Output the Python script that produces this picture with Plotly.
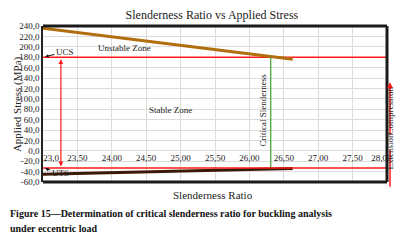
import plotly.graph_objects as go

# ---- data ----
slenderness = [23.0, 23.5, 24.0, 24.5, 25.0, 25.5, 26.0, 26.5, 26.63]
applied_stress = [235.6, 227.4, 219.2, 211.0, 202.8, 194.6, 186.4, 178.2, 176.0]
tensile_stress = [-45.0, -43.5, -42.0, -40.5, -39.0, -37.5, -36.0, -34.5, -34.0]
ucs = 180.0
uts = -33.0
critical_slenderness = 26.31
arrow_x = 23.26
x_min, x_max = 23.0, 28.0
y_min, y_max = -60.0, 240.0

NB = "\u00a0"
x_first_tick = [23.0]
x_first_text = ["23,0"]
x_tickvals = [23.5, 24.0, 24.5, 25.0, 25.5, 26.0, 26.5, 27.0, 27.5, 28.0]
x_ticktext = ["23,50", "24,00", "24,50", "25,00", "25,50", "26,00",
              "26,50", "27,00", "27,50", "28,00" + NB * 5]
y_tickvals = [240, 220, 200, 180, 160, 140, 120, 100, 80, 60, 40, 20, 0, -20, -40, -60]
y_ticktext = ["240,0", "220,0", "200,0", "180,0", "160,0", "140,0", "120,0", "100,0",
              "80,0", "60,0", "40,0", "20,0", "0,0", "-20,0", "-40,0", "-60,0"]

SERIF = "Liberation Serif"
TXT = "#222222"

fig = go.Figure()

# UCS and UTS lines
fig.add_trace(go.Scatter(x=[x_min, x_max], y=[ucs, ucs], mode="lines",
                         line=dict(color="#ff1a1a", width=1.5), hoverinfo="skip"))
fig.add_trace(go.Scatter(x=[x_min, x_max], y=[uts, uts], mode="lines", xaxis="x2",
                         line=dict(color="#ff1a1a", width=1.5), hoverinfo="skip"))
# tensile (bottom) curve
fig.add_trace(go.Scatter(x=slenderness, y=tensile_stress, mode="lines",
                         line=dict(color="#3a1a06", width=3)))
# compressive curve
fig.add_trace(go.Scatter(x=slenderness, y=applied_stress, mode="lines",
                         line=dict(color="#b06e0c", width=3)))
# critical slenderness line
fig.add_trace(go.Scatter(x=[critical_slenderness, critical_slenderness], y=[ucs, uts],
                         mode="lines", line=dict(color="#3aa02a", width=1.2)))

y_zero_frac = (0 - y_min) / (y_max - y_min)
tick_font = dict(family=SERIF, size=9, color=TXT)

# page has an 8px body margin: figure is sized/shifted to compensate
fig.update_layout(
    width=396, height=235,
    margin=dict(l=35, r=17, t=18, b=61, autoexpand=False),
    paper_bgcolor="white", plot_bgcolor="white",
    showlegend=False,
    title=dict(text="Slenderness Ratio vs Applied Stress", x=0.515, xanchor="center",
               y=0.972, yanchor="middle", automargin=False,
               font=dict(family=SERIF, size=12, color=TXT)),
    xaxis=dict(range=[x_min, x_max], tickvals=x_tickvals, ticktext=x_ticktext,
               showgrid=True, gridcolor="#dcdcdc", gridwidth=1, zeroline=False,
               showline=False, ticks="", anchor="free", position=y_zero_frac,
               automargin=False, ticklabeloverflow="allow", tickfont=tick_font),
    xaxis2=dict(range=[x_min, x_max], tickvals=x_first_tick, ticktext=x_first_text,
                overlaying="x", side="bottom", showgrid=False, zeroline=False,
                showline=False, ticks="", anchor="free", position=y_zero_frac,
                automargin=False, ticklabelshift=8, ticklabeloverflow="allow",
                tickfont=tick_font),
    yaxis=dict(range=[y_min, y_max], tickvals=y_tickvals, ticktext=y_ticktext,
               showgrid=True, gridcolor="#dcdcdc", gridwidth=1, zeroline=False,
               showline=True, linecolor="#222222", linewidth=1.5, ticks="",
               ticklen=0, automargin=False, tickfont=tick_font),
)

# border (top, right, bottom) thick
border = dict(color="#1a1a1a", width=3)
fig.add_shape(type="line", xref="x domain", yref="y domain", x0=0, x1=1, y0=1, y1=1, line=border)
fig.add_shape(type="line", xref="x domain", yref="y domain", x0=1, x1=1, y0=0, y1=1, line=border)
fig.add_shape(type="line", xref="x domain", yref="y domain", x0=0, x1=1, y0=0, y1=0, line=border)

# right side compression / extension markers (outside plot)
fig.add_annotation(xref="paper", yref="paper", x=1.0087, y=0.64, ax=0, ay=54,
                   axref="pixel", ayref="pixel", text="", showarrow=True,
                   arrowhead=2, arrowsize=0.8, arrowwidth=1.5, arrowcolor="#ff1a1a")
fig.add_shape(type="line", xref="paper", yref="paper", x0=1.0087, x1=1.0087,
              y0=0.205, y1=-0.03, line=dict(color="#ff1a1a", width=1.5))
fig.add_annotation(xref="paper", yref="paper", x=1.03, y=0.46, text="Compression",
                   textangle=-90, showarrow=False,
                   font=dict(family=SERIF, size=9, color=TXT))
fig.add_annotation(xref="paper", yref="paper", x=1.03, y=0.07, text="Extension",
                   textangle=-90, showarrow=False,
                   font=dict(family=SERIF, size=9, color=TXT))

# red vertical double arrow
fig.add_annotation(x=arrow_x, y=uts + 3, ax=arrow_x, ay=ucs - 1, axref="x", ayref="y",
                   text="", showarrow=True, arrowhead=2, startarrowhead=2,
                   arrowside="end+start", arrowsize=0.8, arrowwidth=1.2, arrowcolor="#ff1a1a")

# UCS / UTS labels with arrows
fig.add_annotation(x=x_min + 0.03, y=ucs + 1, ax=23.32, ay=190, axref="x", ayref="y",
                   text="UCS", showarrow=True, arrowhead=2, arrowsize=0.7, arrowwidth=1,
                   arrowcolor="#111111", font=dict(family=SERIF, size=9, color=TXT))
fig.add_annotation(x=x_min + 0.03, y=uts - 1, ax=23.25, ay=-42.5, axref="x", ayref="y",
                   text="UTS", showarrow=True, arrowhead=2, arrowsize=0.7, arrowwidth=1,
                   arrowcolor="#111111", font=dict(family=SERIF, size=9, color=TXT))

# zone labels
fig.add_annotation(x=24.18, y=198, text="Unstable Zone", showarrow=False,
                   font=dict(family=SERIF, size=9, color=TXT))
fig.add_annotation(x=24.85, y=78, text="Stable Zone", showarrow=False,
                   font=dict(family=SERIF, size=9, color=TXT))
fig.add_annotation(x=26.2, y=78, text="Critical Slenderness", textangle=-90,
                   showarrow=False, font=dict(family=SERIF, size=9, color=TXT))

# axis titles
fig.add_annotation(xref="paper", yref="paper", x=0.494, y=-0.083, text="Slenderness Ratio",
                   showarrow=False, yanchor="middle",
                   font=dict(family=SERIF, size=11, color=TXT))
fig.add_annotation(xref="paper", yref="paper", x=-0.1, y=0.5, text="Applied Stress (MPa)",
                   textangle=-90, showarrow=False,
                   font=dict(family=SERIF, size=11, color=TXT))

# caption
fig.add_annotation(xref="paper", yref="paper", x=-0.102, y=-0.205, xanchor="left",
                   yanchor="middle", showarrow=False,
                   text="<b>Figure 15—Determination of critical slenderness ratio for buckling analysis</b>",
                   font=dict(family=SERIF, size=10, color="#111111"))
fig.add_annotation(xref="paper", yref="paper", x=-0.102, y=-0.295, xanchor="left",
                   yanchor="middle", showarrow=False,
                   text="<b>under eccentric load</b>",
                   font=dict(family=SERIF, size=10, color="#111111"))

fig.write_html("out.html")
